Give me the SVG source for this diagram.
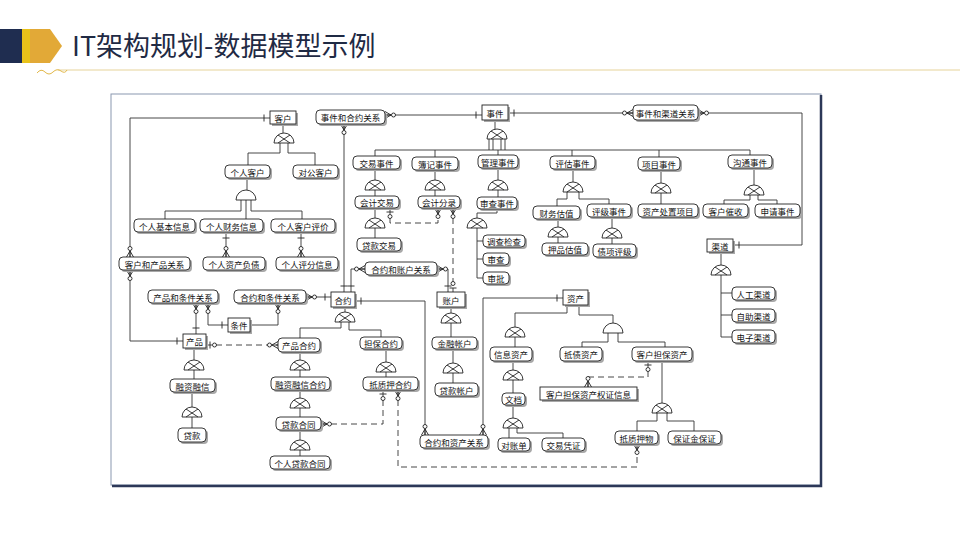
<svg xmlns="http://www.w3.org/2000/svg" xmlns:xlink="http://www.w3.org/1999/xlink" width="960" height="540" viewBox="0 0 960 540">
<style>
.t{font-family:'Noto Sans CJK SC','Noto Sans',sans-serif;font-size:8.5px;fill:#111;text-anchor:middle;dominant-baseline:central}
.bx{fill:#fff;stroke:#222;stroke-width:0.9}
.sh{fill:#a8a8a8}
.ln{fill:none;stroke:#333;stroke-width:0.9}
.dl{fill:none;stroke:#333;stroke-width:0.9;stroke-dasharray:6,4}
.title{font-family:'Noto Sans CJK SC','Noto Sans',sans-serif;font-size:27px;fill:#1f2a44}
</style>
<defs>
<marker id="cfo" viewBox="-13 -5 14 10" refX="0" refY="0" markerWidth="14" markerHeight="10" markerUnits="userSpaceOnUse" orient="auto-start-reverse" overflow="visible">
<path d="M-6,0 L0,-3.5 M-6,0 L0,0 M-6,0 L0,3.5" fill="none" stroke="#222" stroke-width="0.9"/>
<circle cx="-8.5" cy="0" r="2" fill="#fff" stroke="#222" stroke-width="0.9"/>
</marker>
<marker id="bar" viewBox="-13 -5 14 10" refX="0" refY="0" markerWidth="14" markerHeight="10" markerUnits="userSpaceOnUse" orient="auto-start-reverse" overflow="visible">
<path d="M-6,-3.5 V3.5" fill="none" stroke="#222" stroke-width="0.9"/>
</marker>
<marker id="baro" viewBox="-13 -5 14 10" refX="0" refY="0" markerWidth="14" markerHeight="10" markerUnits="userSpaceOnUse" orient="auto-start-reverse" overflow="visible">
<path d="M-4,-3.5 V3.5" fill="none" stroke="#222" stroke-width="0.9"/>
<circle cx="-8.5" cy="0" r="2" fill="#fff" stroke="#222" stroke-width="0.9"/>
</marker>
<g id="gx"><path d="M-10,10 A10,10 0 0 1 10,10 Z" fill="#fff" stroke="#222" stroke-width="0.9"/><path d="M-6,2 L6,10 M6,2 L-6,10" fill="none" stroke="#222" stroke-width="0.9"/></g>
<g id="gp"><path d="M-10,10 A10,10 0 0 1 10,10 Z" fill="#fff" stroke="#222" stroke-width="0.9"/></g>
</defs>

<rect width="960" height="540" fill="#fff"/>
<!-- header -->
<g id="header">
<rect x="0" y="29" width="22" height="34" fill="#1f2d50"/>
<rect x="22" y="29" width="8" height="34" fill="#e8c21a"/>
<polygon points="30,29 50,29 62,46 50,63 30,63" fill="#e2a937"/>
<text class="title" x="72" y="56">IT架构规划-数据模型示例</text>
<line x1="58" y1="70" x2="960" y2="70" stroke="#e6d39a" stroke-width="1"/>
<path d="M37,73 q4,-5 8,-1 t8,0 t8,-1 t6,-1" fill="none" stroke="#e2b84a" stroke-width="1"/>
</g>

<!-- frame -->
<rect x="111" y="94" width="710" height="391" fill="#fff" stroke="#8a98b0" stroke-width="1"/>
<path d="M821,95 V486 H112" fill="none" stroke="#2c3858" stroke-width="2.5"/>

<g id="connectors">
<!-- hierarchy -->
<path class="ln" d="M283,124 V133 M280,143 V153 H248 V165 M288,143 V153 H315 V165"/>
<path class="ln" d="M247,178 V190 M241,200 V211 H165 V219 M246,200 V219 M251,200 V211 H302 V219"/>
<path class="ln" d="M495,120 V129 M489,139 V150 M493,139 V150 M501,139 V150 M505,139 V150 M375,150 H750"/>
<path class="ln" d="M375,150 V156 M435,150 V157 M498,150 V155 M572,150 V156 M659,150 V157 M750,150 V155"/>
<path class="ln" d="M375,169 V180 M375,190 V196 M375,208 V218 M375,228 V238"/>
<path class="ln" d="M435,170 V180 M435,190 V196 M498,168 V180 M498,190 V197"/>
<path class="ln" d="M497,209 V213 H477 V218 M477,228 V278 M477,241 H483 M477,259 H483 M477,278 H483"/>
<path class="ln" d="M573,169 V182 M567,192 V199 H557 V206 M579,192 V199 H609 V204"/>
<path class="ln" d="M558,219 V227 M558,237 V243 M612,217 V228 M612,238 V244"/>
<path class="ln" d="M661,170 V183 M661,193 V204"/>
<path class="ln" d="M754,168 V185 M750,195 V200 H724 V204 M758,195 V200 H777 V204"/>
<path class="ln" d="M721,252 V265 M721,275 V337 M721,293 H732 M721,315 H732 M721,337 H732"/>
<path class="ln" d="M345,307 V312 M341,322 V328 H300 V338 M349,322 V330 H381 V337"/>
<path class="ln" d="M451,307 V313 M451,323 V337 M453,349 V363 M453,373 V383"/>
<path class="ln" d="M386,349 V362 M386,372 V377"/>
<path class="ln" d="M567,305 V313 H515 V327 M515,337 V347 M579,305 V315 H613 V323 M608,333 V342 H582 V347 M618,333 V342 H665 V347"/>
<path class="ln" d="M513,361 V370 M513,380 V393 M513,405 V418 M509,428 V438 M517,428 V433 H563 V438"/>
<path class="ln" d="M662,361 V403 M657,413 V421 H637 V431 M667,413 V421 H694 V431"/>
<path class="ln" d="M194,348 V360 M194,370 V379 M192,392 V407 M192,417 V428"/>
<path class="ln" d="M300,352 V360 M300,370 V377 M300,390 V398 M300,408 V417 M300,430 V440 M300,450 V456"/>
<!-- relationships -->
<path class="ln" d="M270,118 H130 V257" marker-start="url(#bar)" marker-end="url(#cfo)"/>
<path class="ln" d="M130,270 V341 H183" marker-start="url(#cfo)" marker-end="url(#bar)"/>
<path class="ln" d="M344,124 V292" marker-start="url(#cfo)" marker-end="url(#bar)"/>
<path class="ln" d="M385,115 H482" marker-start="url(#cfo)" marker-end="url(#bar)"/>
<path class="ln" d="M508,113 H633" marker-start="url(#bar)" marker-end="url(#cfo)"/>
<path class="ln" d="M698,113 H802 V245 H733" marker-start="url(#cfo)" marker-end="url(#bar)"/>
<path class="ln" d="M365,269 H351 V292" marker-start="url(#cfo)" marker-end="url(#bar)"/>
<path class="ln" d="M437,269 H448 V292" marker-start="url(#cfo)" marker-end="url(#bar)"/>
<path class="ln" d="M355,301 H425 V435" marker-start="url(#bar)" marker-end="url(#cfo)"/>
<path class="ln" d="M563,298 H483 V435" marker-start="url(#bar)" marker-end="url(#cfo)"/>
<path class="ln" d="M306,297 H331" marker-start="url(#cfo)" marker-end="url(#bar)"/>
<path class="ln" d="M196,303 V334" marker-start="url(#cfo)" marker-end="url(#bar)"/>
<path class="ln" d="M208,303 V325 H228" marker-start="url(#cfo)" marker-end="url(#bar)"/>
<path class="ln" d="M278,303 V325 H250" marker-start="url(#cfo)"/>
<path class="ln" d="M226,232 V257" marker-start="url(#bar)" marker-end="url(#cfo)"/>
<path class="ln" d="M301,232 V257" marker-start="url(#bar)" marker-end="url(#cfo)"/>
<!-- dashed -->
<path class="dl" d="M206,345 H278" marker-start="url(#baro)" marker-end="url(#cfo)"/>
<path class="dl" d="M321,424 H383 V390" marker-start="url(#cfo)" marker-end="url(#baro)"/>
<path class="dl" d="M398,390 V467 H637 V444" marker-start="url(#cfo)" marker-end="url(#cfo)"/>
<path class="dl" d="M390,208 V223 H438 V208" marker-start="url(#baro)" marker-end="url(#cfo)"/>
<path class="dl" d="M453,208 V292" marker-start="url(#cfo)" marker-end="url(#baro)"/>
<path class="dl" d="M648,361 V377 H588 V387" marker-start="url(#baro)" marker-end="url(#cfo)"/>
</g>

<g id="gates">
<use href="#gx" x="284" y="133"/>
<use href="#gp" x="246" y="190"/>
<use href="#gx" x="497" y="129"/>
<use href="#gx" x="375" y="180"/>
<use href="#gx" x="435" y="180"/>
<use href="#gx" x="498" y="180"/>
<use href="#gx" x="573" y="182"/>
<use href="#gx" x="661" y="183"/>
<use href="#gx" x="754" y="185"/>
<use href="#gx" x="375" y="218"/>
<use href="#gx" x="477" y="218"/>
<use href="#gx" x="558" y="227"/>
<use href="#gx" x="612" y="228"/>
<use href="#gx" x="721" y="265"/>
<use href="#gx" x="345" y="312"/>
<use href="#gx" x="451" y="313"/>
<use href="#gx" x="515" y="327"/>
<use href="#gp" x="613" y="323"/>
<use href="#gx" x="194" y="360"/>
<use href="#gx" x="300" y="360"/>
<use href="#gx" x="300" y="398"/>
<use href="#gx" x="386" y="362"/>
<use href="#gx" x="453" y="363"/>
<use href="#gx" x="513" y="370"/>
<use href="#gx" x="513" y="418"/>
<use href="#gx" x="662" y="403"/>
<use href="#gx" x="192" y="407"/>
<use href="#gx" x="300" y="440"/>
</g>

<!-- entities (square) -->
<g id="n-kehu"><rect class="sh" x="272" y="113" width="26" height="13"/><rect class="bx" x="270" y="111" width="26" height="13"/><text class="t" x="283" y="117.5">客户</text></g>
<g id="n-shijian"><rect class="sh" x="484" y="107" width="26" height="15"/><rect class="bx" x="482" y="105" width="26" height="15"/><text class="t" x="495" y="112.5">事件</text></g>
<g id="n-heyue"><rect class="sh" x="333" y="294" width="24" height="15"/><rect class="bx" x="331" y="292" width="24" height="15"/><text class="t" x="343" y="299.5">合约</text></g>
<g id="n-zhanghu"><rect class="sh" x="439" y="294" width="28" height="15"/><rect class="bx" x="437" y="292" width="28" height="15"/><text class="t" x="451" y="299.5">账户</text></g>
<g id="n-zichan"><rect class="sh" x="565" y="292" width="25" height="15"/><rect class="bx" x="563" y="290" width="25" height="15"/><text class="t" x="575.5" y="297.5">资产</text></g>
<g id="n-tiaojian"><rect class="sh" x="230" y="320" width="22" height="14"/><rect class="bx" x="228" y="318" width="22" height="14"/><text class="t" x="239" y="325">条件</text></g>
<g id="n-chanpin"><rect class="sh" x="185" y="336" width="23" height="14"/><rect class="bx" x="183" y="334" width="23" height="14"/><text class="t" x="194.5" y="341">产品</text></g>
<g id="n-qudao"><rect class="sh" x="709" y="241" width="26" height="13"/><rect class="bx" x="707" y="239" width="26" height="13"/><text class="t" x="720" y="245.5">渠道</text></g>
<g id="n-quanzheng"><rect class="sh" x="542" y="389" width="97" height="13"/><rect class="bx" x="540" y="387" width="97" height="13"/><text class="t" x="588.5" y="393.5">客户担保资产权证信息</text></g>

<!-- relation nodes (rounded) -->
<g id="n-sjhy"><rect class="sh" x="318" y="112" width="69" height="14" rx="4"/><rect class="bx" x="316" y="110" width="69" height="14" rx="4"/><text class="t" x="350.5" y="117">事件和合约关系</text></g>
<g id="n-sjqd"><rect class="sh" x="635" y="107" width="65" height="15" rx="4"/><rect class="bx" x="633" y="105" width="65" height="15" rx="4"/><text class="t" x="665.5" y="112.5">事件和渠道关系</text></g>
<g id="n-khcp"><rect class="sh" x="121" y="259" width="71" height="13" rx="4"/><rect class="bx" x="119" y="257" width="71" height="13" rx="4"/><text class="t" x="154.5" y="263.5">客户和产品关系</text></g>
<g id="n-cptj"><rect class="sh" x="150" y="292" width="70" height="13" rx="4"/><rect class="bx" x="148" y="290" width="70" height="13" rx="4"/><text class="t" x="183" y="296.5">产品和条件关系</text></g>
<g id="n-hytj"><rect class="sh" x="236" y="292" width="72" height="13" rx="4"/><rect class="bx" x="234" y="290" width="72" height="13" rx="4"/><text class="t" x="270" y="296.5">合约和条件关系</text></g>
<g id="n-hyzh"><rect class="sh" x="367" y="264" width="72" height="13" rx="4"/><rect class="bx" x="365" y="262" width="72" height="13" rx="4"/><text class="t" x="401" y="268.5">合约和账户关系</text></g>
<g id="n-hyzc"><rect class="sh" x="422" y="437" width="68" height="13" rx="4"/><rect class="bx" x="420" y="435" width="68" height="13" rx="4"/><text class="t" x="454" y="441.5">合约和资产关系</text></g>

<!-- subtypes (rounded) -->
<g id="n-grkh"><rect class="sh" x="227" y="167" width="45" height="13" rx="4"/><rect class="bx" x="225" y="165" width="45" height="13" rx="4"/><text class="t" x="247.5" y="171.5">个人客户</text></g>
<g id="n-dgkh"><rect class="sh" x="295" y="167" width="45" height="13" rx="4"/><rect class="bx" x="293" y="165" width="45" height="13" rx="4"/><text class="t" x="315.5" y="171.5">对公客户</text></g>
<g id="n-grjb"><rect class="sh" x="136" y="221" width="61" height="13" rx="4"/><rect class="bx" x="134" y="219" width="61" height="13" rx="4"/><text class="t" x="164.5" y="225.5">个人基本信息</text></g>
<g id="n-grcw"><rect class="sh" x="202" y="221" width="63" height="13" rx="4"/><rect class="bx" x="200" y="219" width="63" height="13" rx="4"/><text class="t" x="231.5" y="225.5">个人财务信息</text></g>
<g id="n-grpj"><rect class="sh" x="273" y="221" width="64" height="13" rx="4"/><rect class="bx" x="271" y="219" width="64" height="13" rx="4"/><text class="t" x="303" y="225.5">个人客户评价</text></g>
<g id="n-grzc"><rect class="sh" x="205" y="259" width="62" height="13" rx="4"/><rect class="bx" x="203" y="257" width="62" height="13" rx="4"/><text class="t" x="234" y="263.5">个人资产负债</text></g>
<g id="n-grpf"><rect class="sh" x="278" y="259" width="62" height="13" rx="4"/><rect class="bx" x="276" y="257" width="62" height="13" rx="4"/><text class="t" x="307" y="263.5">个人评分信息</text></g>
<g id="n-jysj"><rect class="sh" x="355" y="158" width="47" height="13" rx="4"/><rect class="bx" x="353" y="156" width="47" height="13" rx="4"/><text class="t" x="376.5" y="162.5">交易事件</text></g>
<g id="n-bjsj"><rect class="sh" x="414" y="159" width="46" height="13" rx="4"/><rect class="bx" x="412" y="157" width="46" height="13" rx="4"/><text class="t" x="435" y="163.5">簿记事件</text></g>
<g id="n-glsj"><rect class="sh" x="480" y="157" width="40" height="13" rx="4"/><rect class="bx" x="478" y="155" width="40" height="13" rx="4"/><text class="t" x="498" y="161.5">管理事件</text></g>
<g id="n-pgsj"><rect class="sh" x="552" y="158" width="45" height="13" rx="4"/><rect class="bx" x="550" y="156" width="45" height="13" rx="4"/><text class="t" x="572.5" y="162.5">评估事件</text></g>
<g id="n-xmsj"><rect class="sh" x="640" y="159" width="42" height="13" rx="4"/><rect class="bx" x="638" y="157" width="42" height="13" rx="4"/><text class="t" x="659" y="163.5">项目事件</text></g>
<g id="n-gtsj"><rect class="sh" x="730" y="157" width="44" height="13" rx="4"/><rect class="bx" x="728" y="155" width="44" height="13" rx="4"/><text class="t" x="750" y="161.5">沟通事件</text></g>
<g id="n-kjjy"><rect class="sh" x="357" y="198" width="44" height="12" rx="4"/><rect class="bx" x="355" y="196" width="44" height="12" rx="4"/><text class="t" x="377" y="202">会计交易</text></g>
<g id="n-kjfl"><rect class="sh" x="420" y="198" width="42" height="12" rx="4"/><rect class="bx" x="418" y="196" width="42" height="12" rx="4"/><text class="t" x="439" y="202">会计分录</text></g>
<g id="n-scsj"><rect class="sh" x="479" y="199" width="40" height="12" rx="4"/><rect class="bx" x="477" y="197" width="40" height="12" rx="4"/><text class="t" x="497" y="203">审查事件</text></g>
<g id="n-cwgz"><rect class="sh" x="535" y="208" width="47" height="13" rx="4"/><rect class="bx" x="533" y="206" width="47" height="13" rx="4"/><text class="t" x="556.5" y="212.5">财务估值</text></g>
<g id="n-pjsj"><rect class="sh" x="589" y="206" width="44" height="13" rx="4"/><rect class="bx" x="587" y="204" width="44" height="13" rx="4"/><text class="t" x="609" y="210.5">评级事件</text></g>
<g id="n-zcczxm"><rect class="sh" x="640" y="206" width="60" height="13" rx="4"/><rect class="bx" x="638" y="204" width="60" height="13" rx="4"/><text class="t" x="668" y="210.5">资产处置项目</text></g>
<g id="n-khcs"><rect class="sh" x="705" y="206" width="45" height="13" rx="4"/><rect class="bx" x="703" y="204" width="45" height="13" rx="4"/><text class="t" x="725.5" y="210.5">客户催收</text></g>
<g id="n-sqsj"><rect class="sh" x="757" y="206" width="45" height="13" rx="4"/><rect class="bx" x="755" y="204" width="45" height="13" rx="4"/><text class="t" x="777.5" y="210.5">申请事件</text></g>
<g id="n-dkjy"><rect class="sh" x="359" y="240" width="44" height="13" rx="4"/><rect class="bx" x="357" y="238" width="44" height="13" rx="4"/><text class="t" x="379" y="244.5">贷款交易</text></g>
<g id="n-ypgz"><rect class="sh" x="544" y="245" width="46" height="12" rx="4"/><rect class="bx" x="542" y="243" width="46" height="12" rx="4"/><text class="t" x="565" y="249">押品估值</text></g>
<g id="n-zxpj"><rect class="sh" x="595" y="246" width="43" height="13" rx="4"/><rect class="bx" x="593" y="244" width="43" height="13" rx="4"/><text class="t" x="614.5" y="250.5">债项评级</text></g>
<g id="n-dcjc"><rect class="sh" x="485" y="237" width="42" height="12" rx="4"/><rect class="bx" x="483" y="235" width="42" height="12" rx="4"/><text class="t" x="504" y="241">调查检查</text></g>
<g id="n-sc"><rect class="sh" x="485" y="255" width="26" height="12" rx="4"/><rect class="bx" x="483" y="253" width="26" height="12" rx="4"/><text class="t" x="496" y="259">审查</text></g>
<g id="n-sp"><rect class="sh" x="485" y="274" width="26" height="12" rx="4"/><rect class="bx" x="483" y="272" width="26" height="12" rx="4"/><text class="t" x="496" y="278">审批</text></g>
<g id="n-rgqd"><rect class="sh" x="734" y="289" width="43" height="13" rx="4"/><rect class="bx" x="732" y="287" width="43" height="13" rx="4"/><text class="t" x="753.5" y="293.5">人工渠道</text></g>
<g id="n-zzqd"><rect class="sh" x="734" y="311" width="43" height="13" rx="4"/><rect class="bx" x="732" y="309" width="43" height="13" rx="4"/><text class="t" x="753.5" y="315.5">自助渠道</text></g>
<g id="n-dzqd"><rect class="sh" x="734" y="332" width="43" height="13" rx="4"/><rect class="bx" x="732" y="330" width="43" height="13" rx="4"/><text class="t" x="753.5" y="336.5">电子渠道</text></g>
<g id="n-cphy"><rect class="sh" x="280" y="340" width="42" height="14" rx="4"/><rect class="bx" x="278" y="338" width="42" height="14" rx="4"/><text class="t" x="299" y="345">产品合约</text></g>
<g id="n-dbhy"><rect class="sh" x="362" y="339" width="42" height="12" rx="4"/><rect class="bx" x="360" y="337" width="42" height="12" rx="4"/><text class="t" x="381" y="343">担保合约</text></g>
<g id="n-jrzh"><rect class="sh" x="434" y="339" width="45" height="12" rx="4"/><rect class="bx" x="432" y="337" width="45" height="12" rx="4"/><text class="t" x="454.5" y="343">金融帐户</text></g>
<g id="n-xxzc"><rect class="sh" x="492" y="349" width="42" height="14" rx="4"/><rect class="bx" x="490" y="347" width="42" height="14" rx="4"/><text class="t" x="511" y="354">信息资产</text></g>
<g id="n-dzzc"><rect class="sh" x="562" y="349" width="42" height="14" rx="4"/><rect class="bx" x="560" y="347" width="42" height="14" rx="4"/><text class="t" x="581" y="354">抵债资产</text></g>
<g id="n-khdbzc"><rect class="sh" x="634" y="349" width="60" height="14" rx="4"/><rect class="bx" x="632" y="347" width="60" height="14" rx="4"/><text class="t" x="662" y="354">客户担保资产</text></g>
<g id="n-rzrx"><rect class="sh" x="172" y="381" width="45" height="13" rx="4"/><rect class="bx" x="170" y="379" width="45" height="13" rx="4"/><text class="t" x="192.5" y="385.5">融资融信</text></g>
<g id="n-rzrxhy"><rect class="sh" x="273" y="379" width="59" height="13" rx="4"/><rect class="bx" x="271" y="377" width="59" height="13" rx="4"/><text class="t" x="300.5" y="383.5">融资融信合约</text></g>
<g id="n-dzyhy"><rect class="sh" x="365" y="379" width="55" height="13" rx="4"/><rect class="bx" x="363" y="377" width="55" height="13" rx="4"/><text class="t" x="390.5" y="383.5">抵质押合约</text></g>
<g id="n-dkzh"><rect class="sh" x="437" y="385" width="43" height="13" rx="4"/><rect class="bx" x="435" y="383" width="43" height="13" rx="4"/><text class="t" x="456.5" y="389.5">贷款帐户</text></g>
<g id="n-wd"><rect class="sh" x="504" y="395" width="23" height="12" rx="4"/><rect class="bx" x="502" y="393" width="23" height="12" rx="4"/><text class="t" x="513.5" y="399">文档</text></g>
<g id="n-dkht"><rect class="sh" x="278" y="419" width="45" height="13" rx="4"/><rect class="bx" x="276" y="417" width="45" height="13" rx="4"/><text class="t" x="298.5" y="423.5">贷款合同</text></g>
<g id="n-dzd"><rect class="sh" x="500" y="440" width="32" height="13" rx="4"/><rect class="bx" x="498" y="438" width="32" height="13" rx="4"/><text class="t" x="514" y="444.5">对账单</text></g>
<g id="n-jypz"><rect class="sh" x="544" y="440" width="43" height="13" rx="4"/><rect class="bx" x="542" y="438" width="43" height="13" rx="4"/><text class="t" x="563.5" y="444.5">交易凭证</text></g>
<g id="n-dzyw"><rect class="sh" x="617" y="433" width="43" height="13" rx="4"/><rect class="bx" x="615" y="431" width="43" height="13" rx="4"/><text class="t" x="636.5" y="437.5">抵质押物</text></g>
<g id="n-bzjbz"><rect class="sh" x="670" y="433" width="53" height="13" rx="4"/><rect class="bx" x="668" y="431" width="53" height="13" rx="4"/><text class="t" x="694.5" y="437.5">保证金保证</text></g>
<g id="n-dk"><rect class="sh" x="180" y="430" width="28" height="14" rx="4"/><rect class="bx" x="178" y="428" width="28" height="14" rx="4"/><text class="t" x="192" y="435">贷款</text></g>
<g id="n-grdkht"><rect class="sh" x="272" y="458" width="60" height="13" rx="4"/><rect class="bx" x="270" y="456" width="60" height="13" rx="4"/><text class="t" x="300" y="462.5">个人贷款合同</text></g>
</svg>
